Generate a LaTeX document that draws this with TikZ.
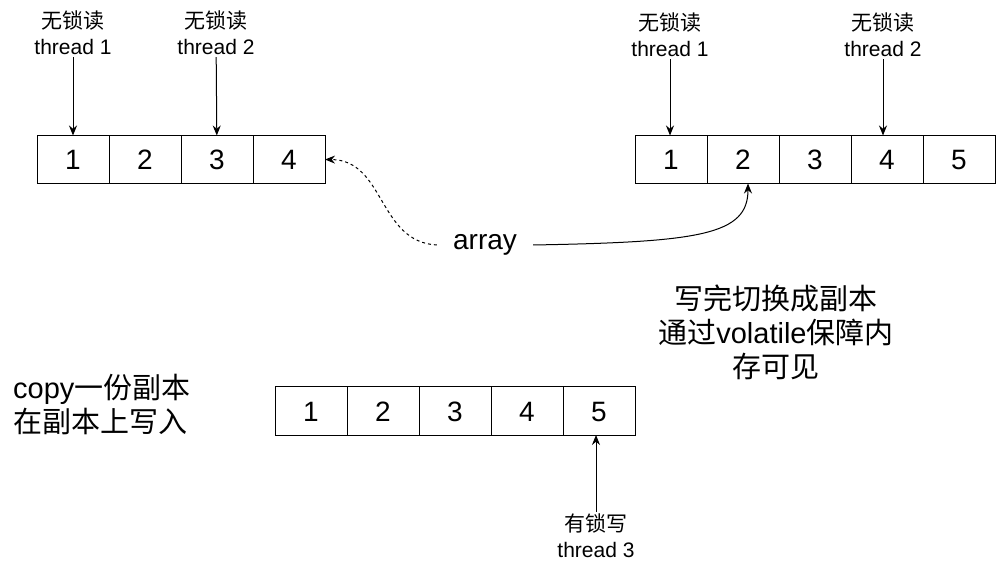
\documentclass[tikz,border=0pt]{standalone}
\usepackage{fontspec}
\setmainfont{Liberation Sans}
\newfontfamily\cjk{Noto Sans CJK SC}
\usetikzlibrary{positioning,arrows.meta}

\begin{document}
\begin{tikzpicture}[x=1pt, y=-1pt,
  cell/.style={draw, line width=1pt, minimum width=72pt, minimum height=48pt,
    inner sep=0pt, outer sep=0pt, text height=20pt, text depth=0pt,
    font=\fontsize{28}{32}\selectfont},
  lbl/.style={align=center, inner sep=2pt, font=\fontsize{21}{26}\selectfont},
  note/.style={inner sep=0pt, font=\fontsize{29}{34}\selectfont},
  ptr/.style={-{Stealth[length=10pt,width=8pt]}, line width=1pt},
  node distance=0pt]

\useasboundingbox (0,0) rectangle (1002,561);

%% old array, lock-free readers
\node[cell] (a1) at (73,159.5) {1};
\node[cell, right=of a1] (a2) {2};
\node[cell, right=of a2] (a3) {3};
\node[cell, right=of a3] (a4) {4};

\node[lbl] (rd_a1) at (73,33) {{\cjk 无锁读}\\thread 1};
\node[lbl] (rd_a2) at (216,33) {{\cjk 无锁读}\\thread 2};

\draw[ptr] (rd_a1) -- (a1);
\draw[ptr] (rd_a2) -- (a3);

%% new array after switch
\node[cell] (b1) at (671,159.5) {1};
\node[cell, right=of b1] (b2) {2};
\node[cell, right=of b2] (b3) {3};
\node[cell, right=of b3] (b4) {4};
\node[cell, right=of b4] (b5) {5};

\node[lbl] (rd_b1) at (670,35) {{\cjk 无锁读}\\thread 1};
\node[lbl] (rd_b2) at (883,35) {{\cjk 无锁读}\\thread 2};

\draw[ptr] (rd_b1) -- (rd_b1 |- b1.north);
\draw[ptr] (rd_b2) -- (rd_b2 |- b4.north);

%% reference
\node[note, font=\fontsize{28}{34}\selectfont, inner xsep=16pt] (arr) at (485,245) {array};
\draw[ptr, dash pattern=on 3pt off 3pt] (arr.west) .. controls (378,242) and (385,160) .. (a4.east);
\draw[ptr] (arr.east) .. controls (700,242) and (748,235) .. ([xshift=5pt]b2.south);

%% copy being written
\node[cell] (c1) at (311,411) {1};
\node[cell, right=of c1] (c2) {2};
\node[cell, right=of c2] (c3) {3};
\node[cell, right=of c3] (c4) {4};
\node[cell, right=of c4] (c5) {5};

\node[lbl] (wr_c5) at (596,536) {{\cjk 有锁写}\\thread 3};
\draw[ptr] (wr_c5) -- (wr_c5 |- c5.south);

%% notes
\node[note, align=left, anchor=west] (copy_note) at (13,405)
  {copy{\cjk 一份副本}\\{\cjk 在副本上写入}};
\node[note, align=center] (switch_note) at (776,332)
  {{\cjk 写完切换成副本}\\{\cjk 通过}volatile{\cjk 保障内}\\{\cjk 存可见}};

\end{tikzpicture}
\end{document}
